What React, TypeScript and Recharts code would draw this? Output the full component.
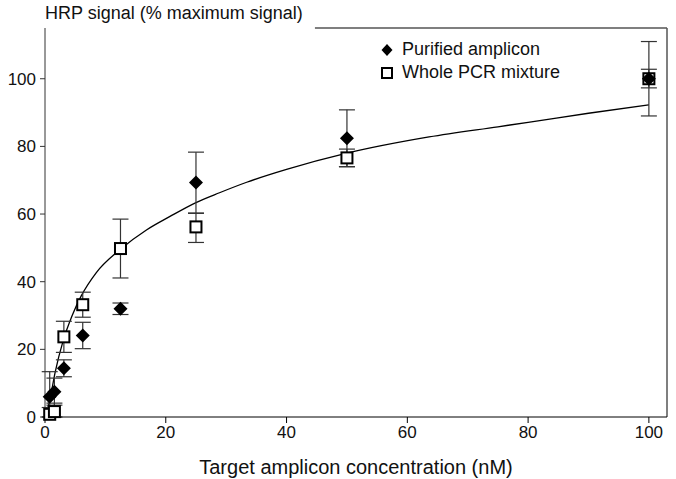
import React from 'react';
import { ComposedChart, Scatter, Line, XAxis, YAxis, ErrorBar, ReferenceLine } from 'recharts';

// target amplicon concentrations (nM)
const conc = [0.78, 1.56, 3.125, 6.25, 12.5, 25, 50, 100];

// purified amplicon: mean and error (low, high)
const purified = [6.0, 7.5, 14.4, 24.1, 32, 69.3, 82.4, 100];
const purifiedErr = [[6.0, 7.4], [4, 4], [2.5, 2.5], [3.9, 3.9], [1.7, 1.7], [9, 9], [8.4, 8.4], [2.7, 2.8]];

// whole PCR mixture
const wholePcr = [0.8, 1.6, 23.7, 33.2, 49.8, 56.2, 76.6, 100];
const wholePcrErr = [[0.8, 2], [1.6, 2.5], [4.6, 4.6], [3.7, 3.7], [8.7, 8.7], [4.6, 4.0], [2.6, 2.6], [11, 11]];

// fitted curve
const fitX = [0, 0.8, 1.65, 3, 4.5, 6, 8.5, 12.5, 16.8, 20.7, 25, 28.9, 33.4, 40, 50, 63.6, 75, 80, 90, 100];
const fitY = [0, 5, 13, 22.5, 30, 35.8, 42.7, 49.6, 55.3, 59.3, 63.4, 66.3, 69.4, 73.2, 78.0, 82.8, 85.8, 87.1, 89.8, 92.3];

const xTicks = [0, 20, 40, 60, 80, 100];
const yTicks = [0, 20, 40, 60, 80, 100];

const purifiedData = conc.map((x, i) => ({ x, y: purified[i], err: purifiedErr[i] }));
const wholeData = conc.map((x, i) => ({ x, y: wholePcr[i], err: wholePcrErr[i] }));
const fitData = fitX.map((x, i) => ({ x, y: fitY[i] }));

const font = '"Liberation Sans", Arial, sans-serif';

const Diamond = (props: any) => {
  const { cx, cy } = props;
  const r = 7;
  return <path d={`M${cx},${cy - r}L${cx + r},${cy}L${cx},${cy + r}L${cx - r},${cy}Z`} fill="#000" />;
};

const Square = (props: any) => {
  const { cx, cy } = props;
  const s = 11;
  return <rect x={cx - s / 2} y={cy - s / 2} width={s} height={s} fill="#fff" stroke="#000" strokeWidth={2} />;
};

const LegendBox = () => (
  <div style={{ position: 'absolute', left: 380, top: 38, fontFamily: font, fontSize: 18, color: '#111', lineHeight: '23px' }}>
    <div style={{ display: 'flex', alignItems: 'center' }}>
      <svg width={14} height={14} style={{ marginRight: 8 }}>
        <path d="M7,1L12.5,7L7,13L1.5,7Z" fill="#000" />
      </svg>
      Purified amplicon
    </div>
    <div style={{ display: 'flex', alignItems: 'center' }}>
      <svg width={14} height={14} style={{ marginRight: 8 }}>
        <rect x={2} y={2} width={10} height={10} fill="#fff" stroke="#000" strokeWidth={2} />
      </svg>
      Whole PCR mixture
    </div>
  </div>
);

export default function App() {
  return (
    <div style={{ position: 'absolute', left: 0, top: 0, width: 676, height: 479, background: '#fff' }}>
      <ComposedChart width={676} height={479} margin={{ top: 28, right: 9, bottom: 0, left: 0 }}>
        <XAxis
          dataKey="x"
          type="number"
          domain={[0, 103]}
          ticks={xTicks}
          tickSize={6}
          tickMargin={3}
          height={62}
          stroke="#000"
          tick={{ fill: '#111', fontSize: 17, fontFamily: font }}
          label={{ value: 'Target amplicon concentration (nM)', position: 'insideBottom', offset: 5, fill: '#111', fontSize: 20, fontFamily: font }}
        />
        <YAxis
          type="number"
          domain={[0, 115]}
          ticks={yTicks}
          tickSize={5}
          tickMargin={4}
          width={45}
          stroke="#333"
          tick={{ fill: '#111', fontSize: 17, fontFamily: font }}
        />
        <ReferenceLine x={103} stroke="#555" strokeWidth={1.5} />
        <ReferenceLine segment={[{ x: 44.7, y: 115 }, { x: 103, y: 115 }]} stroke="#555" strokeWidth={1.5} />
        <Line
          data={fitData}
          dataKey="y"
          type="monotone"
          stroke="#000"
          strokeWidth={1.3}
          dot={false}
          activeDot={false}
          isAnimationActive={false}
        />
        <Scatter name="Whole PCR mixture" data={wholeData} dataKey="y" shape={<Square />} isAnimationActive={false}>
          <ErrorBar dataKey="err" direction="y" width={8} stroke="#333" strokeWidth={1.2} />
        </Scatter>
        <Scatter name="Purified amplicon" data={purifiedData} dataKey="y" shape={<Diamond />} isAnimationActive={false}>
          <ErrorBar dataKey="err" direction="y" width={8} stroke="#333" strokeWidth={1.2} />
        </Scatter>
      </ComposedChart>
      <div style={{ position: 'absolute', left: 45, top: 3, fontFamily: font, fontSize: 18, color: '#111' }}>
        HRP signal (% maximum signal)
      </div>
      <LegendBox />
    </div>
  );
}
